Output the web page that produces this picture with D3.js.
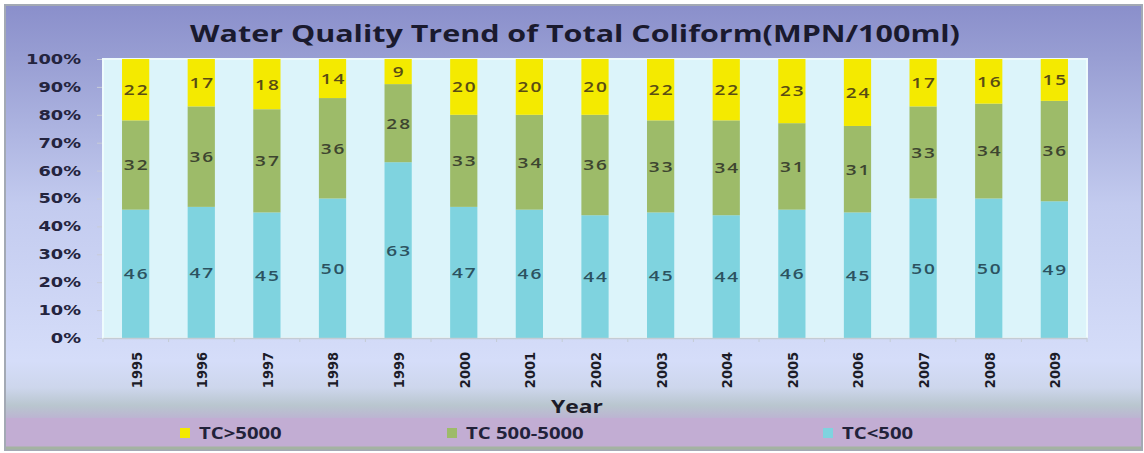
<!DOCTYPE html>
<html>
<head>
<meta charset="utf-8">
<script src="https://cdn.jsdelivr.net/npm/d3@7"></script>
<style>
  html, body { margin: 0; padding: 0; background: #ffffff; }
  svg { display: block; }
</style>
</head>
<body>
<svg id="chart" width="1144" height="453"></svg>
<script>
// Total coliform share by year (percent of samples per class)
const years = ["1995","1996","1997","1998","1999","2000","2001","2002","2003","2004","2005","2006","2007","2008","2009"];
const tcLow  = [46, 47, 45, 50, 63, 47, 46, 44, 45, 44, 46, 45, 50, 50, 49];   // TC<500
const tcMid  = [32, 36, 37, 36, 28, 33, 34, 36, 33, 34, 31, 31, 33, 34, 36];   // TC 500-5000
const tcHigh = [22, 17, 18, 14,  9, 20, 20, 20, 22, 22, 23, 24, 17, 16, 15];   // TC>5000
const seriesNames = ["TC<500", "TC 500-5000", "TC>5000"];
const legendOrder = ["TC>5000", "TC 500-5000", "TC<500"];
const yTicks = [0, 0.1, 0.2, 0.3, 0.4, 0.5, 0.6, 0.7, 0.8, 0.9, 1.0];

const colors = { "TC<500": "#7fd3df", "TC 500-5000": "#9dbb69", "TC>5000": "#f4ea00" };
const labelColors = { "TC<500": "#2c5260", "TC 500-5000": "#3d4530", "TC>5000": "#5a4d14" };

// the chart's lettering is set wide
const SX = 1.27;

const svg = d3.select("#chart");
const W = 1144, H = 453;

// Background panel gradient
const defs = svg.append("defs");
const bg = defs.append("linearGradient").attr("id", "bg").attr("x1", 0).attr("y1", 0).attr("x2", 0).attr("y2", 1);
[[0, "#8a8fcb"], [0.12, "#989ed3"], [0.45, "#c3cbef"], [0.8, "#d5ddf9"], [0.86, "#cdd6ec"], [0.9, "#b9c6cf"], [0.93, "#bcb3d2"], [1, "#c2acd2"]]
  .forEach(([o, c]) => bg.append("stop").attr("offset", o).attr("stop-color", c));

svg.append("rect").attr("x", 0).attr("y", 0).attr("width", W).attr("height", H).attr("fill", "#ffffff");
svg.append("rect").attr("x", 5).attr("y", 5).attr("width", 1137).attr("height", 445)
  .attr("fill", "url(#bg)").attr("stroke", "#a3a9b4").attr("stroke-width", 2);
// legend band
svg.append("rect").attr("x", 6).attr("y", 418).attr("width", 1135).attr("height", 29).attr("fill", "#c2add3");
svg.append("line").attr("x1", 6).attr("x2", 1141).attr("y1", 448).attr("y2", 448).attr("stroke", "#a4b3a2").attr("stroke-width", 3);

// Plot area
const plot = { left: 103, right: 1087, top: 59, bottom: 338 };
svg.append("rect").attr("x", plot.left).attr("y", plot.top)
  .attr("width", plot.right - plot.left).attr("height", plot.bottom - plot.top)
  .attr("fill", "#dcf4fa").attr("stroke", "#eefbfd").attr("stroke-width", 2);

const x = d3.scaleBand().domain(years).range([plot.left, plot.right]).paddingInner(0.585).paddingOuter(0.29);
const y = d3.scaleLinear().domain([0, 1]).range([plot.bottom, plot.top]);

const rows = years.map((yr, i) => {
  const total = tcLow[i] + tcMid[i] + tcHigh[i];
  return { year: yr, "TC<500": tcLow[i] / total, "TC 500-5000": tcMid[i] / total, "TC>5000": tcHigh[i] / total,
           raw: { "TC<500": tcLow[i], "TC 500-5000": tcMid[i], "TC>5000": tcHigh[i] } };
});
const stacked = d3.stack().keys(seriesNames)(rows);

const layers = svg.append("g").selectAll("g").data(stacked).join("g").attr("fill", d => colors[d.key]);
layers.selectAll("rect").data(d => d).join("rect")
  .attr("x", d => x(d.data.year))
  .attr("width", x.bandwidth())
  .attr("y", d => y(d[1]))
  .attr("height", d => y(d[0]) - y(d[1]));

// Value labels in the middle of each segment
const labels = svg.append("g").attr("font-family", "Open Sans, DejaVu Sans, sans-serif")
  .attr("font-size", 15).attr("font-weight", 600).attr("text-anchor", "middle").attr("letter-spacing", 1.5);
stacked.forEach(layer => {
  labels.selectAll(null).data(layer).join("text")
    .attr("transform", d => `translate(${x(d.data.year) + x.bandwidth() / 2 + 1},${y((d[0] + d[1]) / 2)}) scale(${SX},1)`)
    .attr("dy", "0.36em")
    .attr("fill", labelColors[layer.key])
    .text(d => d.data.raw[layer.key]);
});

// Y axis
const yAxis = d3.axisLeft(y).tickValues(yTicks).tickFormat(d3.format(".0%")).tickSize(5).tickPadding(17);
const gy = svg.append("g").attr("transform", `translate(${plot.left - 1},0)`).call(yAxis);
gy.select(".domain").remove();
gy.selectAll(".tick line").attr("stroke", "#c8ccd8");
gy.selectAll(".tick text")
  .attr("transform", `translate(-21,0) scale(${SX},1)`).attr("x", 0)
  .attr("font-family", "DejaVu Sans, Verdana, sans-serif").attr("font-size", 14)
  .attr("font-weight", "bold").attr("fill", "#24243e");

// X axis
const xAxis = d3.axisBottom(x).tickSize(0).tickPadding(0);
const gx = svg.append("g").attr("transform", `translate(0,${plot.bottom})`).call(xAxis);
gx.select(".domain").attr("stroke", "#c4ccd4").attr("stroke-width", 1.5);
gx.selectAll(".tick text")
  .attr("font-family", "DejaVu Sans, sans-serif")
  .attr("font-size", 13).attr("font-weight", "bold").attr("fill", "#1c1c28")
  .attr("transform", `translate(1,14) scale(${SX * 0.85},1) rotate(-90)`)
  .attr("text-anchor", "end")
  .attr("x", 0).attr("y", 0).attr("dy", "0.35em");
// small separators between categories
gx.append("g").selectAll("line").data(d3.range(years.length + 1)).join("line")
  .attr("x1", i => plot.left + i * (plot.right - plot.left) / years.length)
  .attr("x2", i => plot.left + i * (plot.right - plot.left) / years.length)
  .attr("y1", 0).attr("y2", 4).attr("stroke", "#c4ccd4");

// Axis title
svg.append("text").attr("transform", `translate(577,413) scale(${SX},1)`).attr("text-anchor", "middle")
  .attr("font-family", "Open Sans, DejaVu Sans, sans-serif").attr("font-size", 18).attr("font-weight", "bold")
  .attr("fill", "#1c1c28").text("Year");

// Chart title
svg.append("text").attr("transform", `translate(575,42) scale(${SX},1)`).attr("text-anchor", "middle")
  .attr("font-family", "Open Sans, DejaVu Sans, sans-serif").attr("font-size", 24).attr("font-weight", "bold")
  .attr("fill", "#1a1a2e").text("Water Quality Trend of Total Coliform(MPN/100ml)");

// Legend
const legendX = { "TC>5000": 185, "TC 500-5000": 452, "TC<500": 828 };
const lg = svg.append("g");
legendOrder.forEach(name => {
  lg.append("rect").attr("x", legendX[name] - 5).attr("y", 428).attr("width", 10).attr("height", 10).attr("fill", colors[name]);
  lg.append("text").attr("transform", `translate(${legendX[name] + 14},439) scale(${SX},1)`)
    .attr("font-family", "Open Sans, DejaVu Sans, sans-serif").attr("font-size", 16).attr("font-weight", "bold")
    .attr("fill", "#22223a").text(name);
});
</script>
</body>
</html>
